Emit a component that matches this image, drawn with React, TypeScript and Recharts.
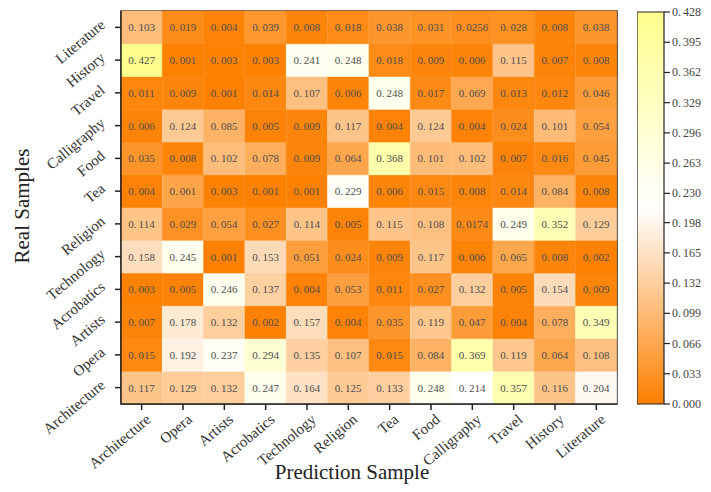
import React from 'react';
import { BarChart, Bar, Cell, XAxis, YAxis, LabelList, ReferenceArea, Label } from 'recharts';

// categories, bottom to top on the y axis and left to right on the x axis
const CATEGORIES = [
    'Architecture', 'Opera', 'Artists', 'Acrobatics', 'Technology', 'Religion',
    'Tea', 'Food', 'Calligraphy', 'Travel', 'History', 'Literature',
];

// one row per real sample, values follow CATEGORIES (prediction sample)
const architectureRow = [0.117, 0.129, 0.132, 0.247, 0.164, 0.125, 0.133, 0.248, 0.214, 0.357, 0.116, 0.204];
const operaRow = [0.015, 0.192, 0.237, 0.294, 0.135, 0.107, 0.015, 0.084, 0.369, 0.119, 0.064, 0.108];
const artistsRow = [0.007, 0.178, 0.132, 0.002, 0.157, 0.004, 0.035, 0.119, 0.047, 0.004, 0.078, 0.349];
const acrobaticsRow = [0.003, 0.005, 0.246, 0.137, 0.004, 0.053, 0.011, 0.027, 0.132, 0.005, 0.154, 0.009];
const technologyRow = [0.158, 0.245, 0.001, 0.153, 0.051, 0.024, 0.009, 0.117, 0.006, 0.065, 0.008, 0.002];
const religionRow = [0.114, 0.029, 0.054, 0.027, 0.114, 0.005, 0.115, 0.108, 0.0174, 0.249, 0.352, 0.129];
const teaRow = [0.004, 0.061, 0.003, 0.001, 0.001, 0.229, 0.006, 0.015, 0.008, 0.014, 0.084, 0.008];
const foodRow = [0.035, 0.008, 0.102, 0.078, 0.009, 0.064, 0.368, 0.101, 0.102, 0.007, 0.016, 0.045];
const calligraphyRow = [0.006, 0.124, 0.085, 0.005, 0.009, 0.117, 0.004, 0.124, 0.004, 0.024, 0.101, 0.054];
const travelRow = [0.011, 0.009, 0.001, 0.014, 0.107, 0.006, 0.248, 0.017, 0.069, 0.013, 0.012, 0.046];
const historyRow = [0.427, 0.001, 0.003, 0.003, 0.241, 0.248, 0.018, 0.009, 0.006, 0.115, 0.007, 0.008];
const literatureRow = [0.103, 0.019, 0.004, 0.039, 0.008, 0.018, 0.038, 0.031, 0.0256, 0.028, 0.008, 0.038];

const ROWS = [
    architectureRow, operaRow, artistsRow, acrobaticsRow, technologyRow, religionRow,
    teaRow, foodRow, calligraphyRow, travelRow, historyRow, literatureRow,
];

const COLORBAR_TICKS = [0, 0.033, 0.066, 0.099, 0.132, 0.165, 0.198, 0.23, 0.263, 0.296, 0.329, 0.362, 0.395, 0.428];
const VMAX = 0.428;

const LOW = [253, 128, 0];
const MID = [255, 255, 255];
const HIGH = [255, 255, 140];
const MID_AT = 0.5;
const SERIF = '"Liberation Serif", "Times New Roman", serif';
const INK = '#222';

function mix(a: number[], b: number[], t: number) {
    const c = a.map((v, i) => Math.round(v + (b[i] - v) * t));
    return `rgb(${c[0]},${c[1]},${c[2]})`;
}

function cellColor(v: number) {
    const t = Math.max(0, Math.min(1, v / VMAX));
    if (t < MID_AT) return mix(LOW, MID, t / MID_AT);
    return mix(MID, HIGH, (t - MID_AT) / (1 - MID_AT));
}

const tableData = CATEGORIES.map((name, c) => {
    const d: any = { name };
    ROWS.forEach((row, r) => {
        d['r' + r] = 1;
        d['v' + r] = row[c];
    });
    return d;
});

const Y_TICKS = CATEGORIES.map((_, i) => i + 0.5);

// "0.103" drawn with the small gap after the point seen in the original
function splitNumber(s: string) {
    const [a, b] = s.split('.');
    return (
        <>
            <tspan>{a}.</tspan>
            <tspan dx={2}>{b}</tspan>
        </>
    );
}

const CellText = (props: any) => {
    const { x, y, width, height, value } = props;
    return (
        <text
            x={x + width / 2}
            y={y + height / 2}
            textAnchor="middle"
            dominantBaseline="central"
            fontFamily={SERIF}
            fontSize={11}
            fill="#4d4d4d"
        >
            {splitNumber(String(value))}
        </text>
    );
};

const YTick = ({ x, y, payload }: any) => {
    const tx = x - 7;
    const ty = y - 1;
    return (
        <text
            x={tx}
            y={ty}
            transform={`rotate(-40 ${tx} ${ty})`}
            textAnchor="end"
            fontFamily={SERIF}
            fontSize={15}
            fill="#333"
        >
            {CATEGORIES[Math.floor(payload.value)]}
        </text>
    );
};

const XTick = ({ x, y, payload }: any) => {
    const tx = x + 10;
    const ty = y + 9;
    return (
        <text
            x={tx}
            y={ty}
            transform={`rotate(-40 ${tx} ${ty})`}
            textAnchor="end"
            fontFamily={SERIF}
            fontSize={15}
            fill="#333"
        >
            {payload.value}
        </text>
    );
};

const BarTick = ({ x, y, payload }: any) => (
    <text x={x} y={y + 4} textAnchor="start" fontFamily={SERIF} fontSize={12} fill="#444">
        {splitNumber(payload.value.toFixed(3))}
    </text>
);

export default function App() {
    return (
        <div style={{ position: 'relative', width: 711, height: 492, margin: -8, background: '#fff' }}>
            <BarChart
                width={711}
                height={492}
                data={tableData}
                margin={{ top: 11, right: 94, bottom: 0, left: 0 }}
                barCategoryGap={0}
                barGap={0}
            >
                <XAxis
                    dataKey="name"
                    height={88}
                    interval={0}
                    tickSize={6}
                    tickLine={{ stroke: INK, strokeWidth: 1.5 }}
                    axisLine={{ stroke: INK, strokeWidth: 1.5 }}
                    tick={<XTick />}
                >
                    <Label
                        content={() => (
                            <text x={352} y={479} textAnchor="middle" fontFamily={SERIF} fontSize={21} fill="#222">
                                Prediction Sample
                            </text>
                        )}
                    />
                </XAxis>
                <YAxis
                    type="number"
                    domain={[0, CATEGORIES.length]}
                    ticks={Y_TICKS}
                    interval={0}
                    width={121}
                    tickSize={6}
                    tickLine={{ stroke: INK, strokeWidth: 1.5 }}
                    axisLine={{ stroke: INK, strokeWidth: 1.5 }}
                    tick={<YTick />}
                >
                    <Label
                        content={() => (
                            <text
                                x={29}
                                y={206}
                                transform="rotate(-90 29 206)"
                                textAnchor="middle"
                                fontFamily={SERIF}
                                fontSize={21}
                                fill="#222"
                            >
                                Real Samples
                            </text>
                        )}
                    />
                </YAxis>
                {ROWS.map((row, r) => (
                    <Bar key={r} dataKey={'r' + r} stackId="m" isAnimationActive={false}>
                        {row.map((v, c) => (
                            <Cell key={c} fill={cellColor(v)} stroke={cellColor(v)} strokeWidth={0.6} />
                        ))}
                        <LabelList dataKey={'v' + r} content={<CellText />} />
                    </Bar>
                ))}
                <ReferenceArea y1={0} y2={CATEGORIES.length} fill="none" stroke={INK} strokeWidth={1.5} />
            </BarChart>

            <div style={{ position: 'absolute', left: 637, top: 0 }}>
                <BarChart
                    width={74}
                    height={492}
                    data={[{ name: 'scale', v: VMAX }]}
                    margin={{ top: 12, right: 0, bottom: 88, left: 0 }}
                    barCategoryGap={0}
                >
                    <defs>
                        <linearGradient id="cbGrad" x1="0" y1="0" x2="0" y2="1">
                            <stop offset="0" stopColor={mix(HIGH, HIGH, 0)} />
                            <stop offset={1 - MID_AT} stopColor={mix(MID, MID, 0)} />
                            <stop offset="1" stopColor={mix(LOW, LOW, 0)} />
                        </linearGradient>
                    </defs>
                    <XAxis dataKey="name" hide />
                    <YAxis
                        orientation="right"
                        type="number"
                        domain={[0, VMAX]}
                        ticks={COLORBAR_TICKS}
                        interval={0}
                        width={47}
                        axisLine={false}
                        tickSize={6}
                        tickLine={{ stroke: INK, strokeWidth: 1.2 }}
                        tick={<BarTick />}
                    />
                    <Bar dataKey="v" fill="url(#cbGrad)" stroke={INK} strokeWidth={1.2} isAnimationActive={false} />
                </BarChart>
            </div>
        </div>
    );
}
